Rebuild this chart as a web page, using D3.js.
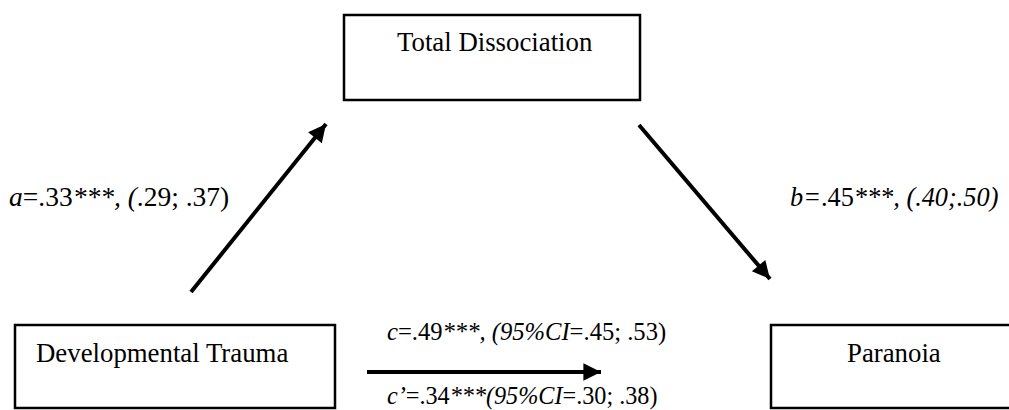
<!DOCTYPE html>
<html>
<head>
    <meta charset="UTF-8">
    <script src="https://d3js.org/d3.v7.min.js"></script>
    <style>
        body { margin: 0; background: #fff; }
        text, tspan { font-family: "Liberation Serif", "Times New Roman", serif; fill: #000; }
    </style>
</head>
<body>
<svg width="1009" height="410"></svg>
<script>
    // nodes of the mediation model
    var nodes = ["Total Dissociation", "Developmental Trauma", "Paranoia"];
    // path labels: [italic?, text] pieces
    var pathA = [[1, "a"], [0, "=.33"], [1, "***, ("], [0, ".29; .37)"]];
    var pathB = [[1, "b="], [0, ".45"], [1, "***, (.40;.50)"]];
    var pathC = [[1, "c"], [0, "=.49"], [1, "***, (95%CI"], [0, "=.45; .53)"]];
    var pathCp = [[1, "c\u2019"], [0, "=.34"], [1, "***(95%CI"], [0, "=.30; .38)"]];

    var svg = d3.select("svg");
    var serif = "'Liberation Serif', 'Times New Roman', serif";

    // box layout
    var boxes = [
        {name: nodes[0], x: 344, y: 15, w: 296, h: 85, tx: 397, ty: 51},
        {name: nodes[1], x: 15, y: 325, w: 320, h: 83, tx: 36, ty: 362},
        {name: nodes[2], x: 771, y: 325, w: 260, h: 83, tx: 847, ty: 362}
    ];

    svg.append("defs").append("marker")
        .attr("id", "head")
        .attr("viewBox", "0 0 10 10")
        .attr("refX", 10).attr("refY", 5)
        .attr("markerWidth", 5.2).attr("markerHeight", 4.4)
        .attr("markerUnits", "strokeWidth")
        .attr("orient", "auto")
        .append("path")
        .attr("d", "M0,0L10,5L0,10z")
        .attr("fill", "#000");

    svg.selectAll(".box")
        .data(boxes)
        .enter()
        .append("rect")
        .attr("class", "box")
        .attr("x", function(d) { return d.x; })
        .attr("y", function(d) { return d.y; })
        .attr("width", function(d) { return d.w; })
        .attr("height", function(d) { return d.h; })
        .attr("fill", "none")
        .attr("stroke", "#000")
        .attr("stroke-width", 2.5);

    svg.selectAll(".lbl")
        .data(boxes)
        .enter()
        .append("text")
        .attr("class", "lbl")
        .attr("x", function(d) { return d.tx; })
        .attr("y", function(d) { return d.ty; })
        .attr("font-family", serif)
        .attr("font-size", "26.8px")
        .text(function(d) { return d.name; });

    // arrows
    var arrows = [
        {x1: 191, y1: 292, x2: 326, y2: 124},
        {x1: 639, y1: 125, x2: 770, y2: 279},
        {x1: 367, y1: 372, x2: 601, y2: 372}
    ];
    svg.selectAll(".arr")
        .data(arrows)
        .enter()
        .append("line")
        .attr("class", "arr")
        .attr("x1", function(d) { return d.x1; })
        .attr("y1", function(d) { return d.y1; })
        .attr("x2", function(d) { return d.x2; })
        .attr("y2", function(d) { return d.y2; })
        .attr("stroke", "#000")
        .attr("stroke-width", 4)
        .attr("marker-end", "url(#head)");

    // coefficient labels
    var labels = [
        {parts: pathA, x: 9, y: 206, size: 27.5},
        {parts: pathB, x: 790, y: 206, size: 26.3},
        {parts: pathC, x: 387, y: 340, size: 24.6},
        {parts: pathCp, x: 387, y: 404, size: 24.2}
    ];
    labels.forEach(function(l) {
        var t = svg.append("text")
            .attr("x", l.x)
            .attr("y", l.y)
            .attr("font-family", serif)
            .attr("font-size", l.size + "px");
        t.selectAll("tspan")
            .data(l.parts)
            .enter()
            .append("tspan")
            .attr("font-family", serif)
            .attr("font-style", function(d) { return d[0] ? "italic" : "normal"; })
            .text(function(d) { return d[1]; });
    });
</script>
</body>
</html>
